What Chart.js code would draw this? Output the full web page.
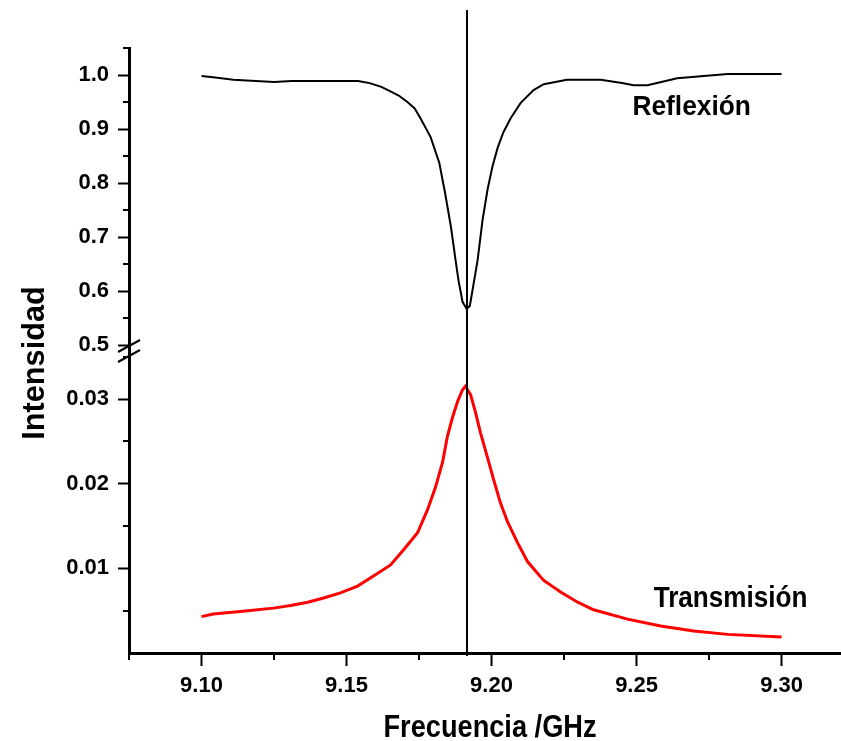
<!DOCTYPE html>
<html lang="es">
<head>
<meta charset="UTF-8">
<title>Reflexión y transmisión</title>
<script src="https://cdn.jsdelivr.net/npm/chart.js@4"></script>
<style>
  html, body { margin: 0; padding: 0; background: #fff; }
  #wrap { width: 841px; height: 741px; }
</style>
</head>
<body>
<div id="wrap"><canvas id="chart" width="841" height="741"></canvas></div>
<script>
// Reflexión (curva negra), frecuencia en GHz
const freqR = [9.100, 9.104, 9.111, 9.125, 9.131, 9.145, 9.154, 9.158, 9.162, 9.165, 9.168, 9.171, 9.1735, 9.1755,
  9.179, 9.182, 9.184, 9.186, 9.1876, 9.1886, 9.190, 9.1914, 9.1925, 9.1934, 9.1952, 9.1969, 9.1986, 9.2003,
  9.2021, 9.2041, 9.2066, 9.210, 9.2145, 9.218, 9.226, 9.2376, 9.245, 9.249, 9.2538, 9.264, 9.2814, 9.300];
const reflexion = [0.998, 0.996, 0.991, 0.987, 0.989, 0.989, 0.989, 0.985, 0.978, 0.970, 0.962, 0.950, 0.938, 0.920,
  0.885, 0.837, 0.781, 0.719, 0.657, 0.620, 0.580, 0.567, 0.572, 0.600, 0.657, 0.731, 0.787, 0.830,
  0.865, 0.894, 0.920, 0.948, 0.972, 0.983, 0.991, 0.991, 0.985, 0.981, 0.981, 0.994, 1.002, 1.002];

// Transmisión (curva roja)
const freqT = [9.100, 9.104, 9.1134, 9.1248, 9.1307, 9.1366, 9.1421, 9.1479, 9.1538, 9.1593, 9.1652, 9.1697, 9.1745,
  9.1779, 9.1807, 9.1831, 9.1848, 9.1866, 9.1883, 9.1900, 9.1910, 9.1928, 9.1945, 9.1962, 9.1986, 9.2007,
  9.2031, 9.2055, 9.2090, 9.2124, 9.2179, 9.2238, 9.2297, 9.2352, 9.2469, 9.2583, 9.2697, 9.2814, 9.300];
const transmision = [0.0043, 0.0046, 0.0049, 0.0053, 0.0056, 0.0060, 0.0065, 0.0071, 0.0079, 0.0091, 0.0104, 0.0122, 0.0142,
  0.0169, 0.0196, 0.0225, 0.0256, 0.0279, 0.0297, 0.0311, 0.0315, 0.0305, 0.0284, 0.0260, 0.0231, 0.0205,
  0.0177, 0.0155, 0.0130, 0.0108, 0.0086, 0.0072, 0.0060, 0.0051, 0.0040, 0.0032, 0.0026, 0.0022, 0.0019];

const resonance = 9.1914;

const xTicks = [9.10, 9.15, 9.20, 9.25, 9.30];
const xMinor = [9.075, 9.125, 9.175, 9.225, 9.275];
const topTicks = [0.5, 0.6, 0.7, 0.8, 0.9, 1.0];
const topMinor = [0.55, 0.65, 0.75, 0.85, 0.95, 1.05];
const botTicks = [0.01, 0.02, 0.03];
const botMinor = [0.005, 0.015, 0.025, 0.035];

const FONT = '"Liberation Sans", Arial, sans-serif';
const tickFont = { family: FONT, size: 22, weight: 'bold' };

function pts(xs, ys) {
  return xs.map((x, i) => ({ x: x, y: ys[i] }));
}

function drawText(ctx, text, x, y, size, sx, rotate) {
  ctx.save();
  ctx.translate(x, y);
  if (rotate) ctx.rotate(-Math.PI / 2);
  ctx.scale(sx, 1);
  ctx.font = 'bold ' + size + 'px ' + FONT;
  ctx.fillStyle = '#000';
  ctx.textAlign = 'center';
  ctx.textBaseline = 'alphabetic';
  ctx.fillText(text, 0, 0);
  ctx.restore();
}

// marcas menores, línea de resonancia, corte del eje y rótulos
const decor = {
  id: 'decor',
  afterDraw(chart) {
    const { ctx, chartArea: area } = chart;
    const { x, yTop, yBot } = chart.scales;
    ctx.save();
    ctx.strokeStyle = '#000';
    ctx.lineWidth = 2;
    ctx.beginPath();
    xMinor.forEach(v => {
      const px = Math.round(x.getPixelForValue(v));
      ctx.moveTo(px, area.bottom); ctx.lineTo(px, area.bottom + 7);
    });
    topMinor.forEach(v => {
      const py = Math.round(yTop.getPixelForValue(v));
      ctx.moveTo(area.left, py); ctx.lineTo(area.left - 6, py);
    });
    botMinor.forEach(v => {
      const py = Math.round(yBot.getPixelForValue(v));
      ctx.moveTo(area.left, py); ctx.lineTo(area.left - 6, py);
    });
    ctx.stroke();

    // línea vertical en la resonancia
    const rx = Math.round(x.getPixelForValue(resonance));
    ctx.beginPath();
    ctx.moveTo(rx, 10); ctx.lineTo(rx, area.bottom + 3);
    ctx.stroke();

    // corte del eje
    const cut = yTop.bottom;
    ctx.beginPath();
    [-5, 5].forEach(d => {
      ctx.moveTo(area.left - 11, cut + d + 6);
      ctx.lineTo(area.left + 11, cut + d - 6);
    });
    ctx.stroke();
    ctx.restore();

    drawText(ctx, 'Reflexión', x.getPixelForValue(9.269), yTop.getPixelForValue(0.926), 28, 0.94);
    drawText(ctx, 'Transmisión', x.getPixelForValue(9.2824), yBot.getPixelForValue(0.0054), 29, 0.9);
    drawText(ctx, 'Frecuencia /GHz', (area.left + area.right) / 2 + 5, 737, 32, 0.85);
    drawText(ctx, 'Intensidad', 44, 363, 32, 0.96, true);
  }
};

const axisGrid = (len) => ({ drawOnChartArea: false, tickLength: len, tickWidth: 2, tickColor: '#000' });

new Chart(document.getElementById('chart'), {
  type: 'line',
  data: {
    datasets: [
      {
        label: 'Reflexión',
        data: pts(freqR, reflexion),
        yAxisID: 'yTop',
        borderColor: '#000000',
        borderWidth: 2,
        pointRadius: 0,
        tension: 0
      },
      {
        label: 'Transmisión',
        data: pts(freqT, transmision),
        yAxisID: 'yBot',
        borderColor: '#ff0000',
        borderWidth: 3,
        pointRadius: 0,
        tension: 0
      }
    ]
  },
  options: {
    responsive: false,
    animation: false,
    events: [],
    layout: { padding: { top: 48, left: 0, right: 0, bottom: 0 } },
    plugins: { legend: { display: false }, tooltip: { enabled: false } },
    scales: {
      x: {
        type: 'linear',
        min: 9.075,
        max: 9.3205,
        border: { color: '#000', width: 3 },
        grid: axisGrid(13),
        afterBuildTicks: s => { s.ticks = xTicks.map(v => ({ value: v })); },
        afterFit: s => { s.height = 88; },
        ticks: { color: '#000', font: tickFont, padding: 7, maxRotation: 0, callback: v => v.toFixed(2) }
      },
      yBot: {
        type: 'linear',
        position: 'left',
        stack: 'intensidad',
        stackWeight: 302,
        min: 0,
        max: 0.03567,
        border: { color: '#000', width: 3 },
        grid: axisGrid(11),
        afterBuildTicks: s => { s.ticks = botTicks.map(v => ({ value: v })); },
        afterFit: s => { s.width = 129; },
        ticks: { color: '#000', font: tickFont, padding: 9, callback: v => v.toFixed(2) }
      },
      yTop: {
        type: 'linear',
        position: 'left',
        stack: 'intensidad',
        stackWeight: 303,
        min: 0.48889,
        max: 1.05,
        border: { color: '#000', width: 3 },
        grid: axisGrid(11),
        afterBuildTicks: s => { s.ticks = topTicks.map(v => ({ value: v })); },
        afterFit: s => { s.width = 129; },
        ticks: { color: '#000', font: tickFont, padding: 9, callback: v => v.toFixed(1) }
      }
    }
  },
  plugins: [decor]
});
</script>
</body>
</html>
